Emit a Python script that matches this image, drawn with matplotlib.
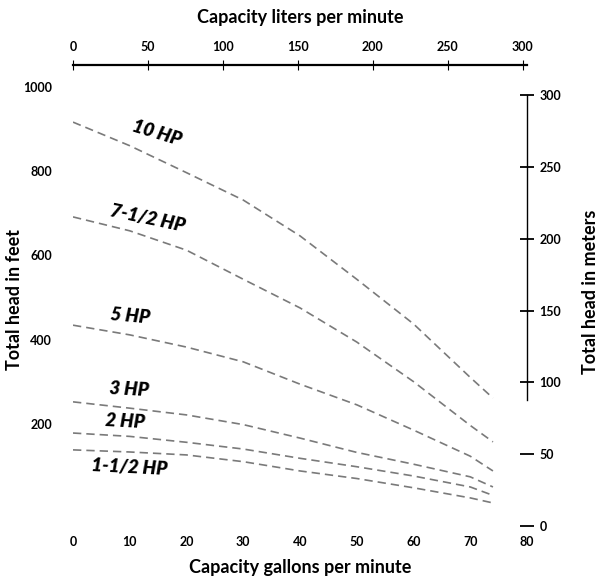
import numpy as np
import matplotlib
matplotlib.use("Agg")
import matplotlib.pyplot as plt

# pump curves (gallons per minute vs. feet of head)
gpm = [0, 10, 20, 30, 40, 50, 60, 70, 74]
hp_10 = [916, 860, 796, 731, 646, 543, 437, 310, 261]
hp_7_5 = [691, 658, 612, 543, 475, 394, 300, 196, 157]
hp_5 = [434, 411, 382, 347, 294, 245, 185, 123, 88]
hp_3 = [252, 237, 221, 198, 166, 132, 104, 74, 50]
hp_2 = [178, 170, 156, 140, 118, 98, 76, 50, 30]
hp_1_5 = [138, 133, 126, 110, 88, 70, 48, 24, 12]

curves = [hp_10, hp_7_5, hp_5, hp_3, hp_2, hp_1_5]
curve_names = ['10 HP', '7-1/2 HP', '5 HP', '3 HP', '2 HP', '1-1/2 HP']
# label anchor (gpm, ft) and rotation
label_pos = [(14.8, 890), (13.2, 688), (10.0, 456), (9.9, 282), (9.2, 206), (9.9, 97)]
label_rot = [-17, -12, -5, -3, -3, -3]

feet_ticks = [200, 400, 600, 800, 1000]
gpm_ticks = [0, 10, 20, 30, 40, 50, 60, 70, 80]
lpm_ticks = [0, 50, 100, 150, 200, 250, 300]
meter_ticks = [0, 50, 100, 150, 200, 250, 300]

FONT = 'Lato'
W, H = 601, 581

fig = plt.figure(figsize=(W / 100, H / 100), dpi=100)
left, right, top, bottom = 73, 527, 65, 530
ax = fig.add_axes([left / W, 1 - bottom / H, (right - left) / W, (bottom - top) / H])

for c in curves:
    ax.plot(gpm, c, color='#7a7a7a', lw=1.2, dashes=(5, 3))

for name, (x, y), r in zip(curve_names, label_pos, label_rot):
    ax.text(x, y, name, rotation=r, ha='center', va='center', fontsize=13.5,
            fontweight='heavy', style='italic', family=FONT, rotation_mode='anchor')

ax.set_xlim(0, 80)
ax.set_ylim(-52.2, 1051.6)
for s in ax.spines.values():
    s.set_visible(False)
ax.set_xticks(gpm_ticks)
ax.set_yticks(feet_ticks)
ax.tick_params(axis='both', length=0, labelsize=9)
ax.tick_params(axis='y', pad=15)
ax.tick_params(axis='x', pad=4)
for lab in ax.get_xticklabels() + ax.get_yticklabels():
    lab.set_fontweight('bold')
    lab.set_family(FONT)

# liters per minute on top
axt = ax.twiny()
axt.set_xlim(0, 80 * 3.78541)
for k in ['left', 'right', 'bottom']:
    axt.spines[k].set_visible(False)
axt.spines['top'].set_bounds(0, 80 * 3.78541)
axt.spines['top'].set_linewidth(1.6)
axt.set_xticks(lpm_ticks)
axt.tick_params(axis='x', direction='inout', length=7, width=0.8, labelsize=9, pad=5)
for lab in axt.get_xticklabels():
    lab.set_fontweight('bold')
    lab.set_family(FONT)

# meters on the right
axr = ax.twinx()
px_per_m = (526 - 95) / 300
axr.set_ylim(-(bottom - 526) / px_per_m, (526 - top) / px_per_m)
for k in ['left', 'top', 'bottom']:
    axr.spines[k].set_visible(False)
axr.spines['right'].set_bounds(88, 300)
axr.spines['right'].set_linewidth(1.0)
axr.set_yticks(meter_ticks)
axr.tick_params(axis='y', direction='inout', length=10, width=1.3, labelsize=9, pad=4)
for lab in axr.get_yticklabels():
    lab.set_fontweight('bold')
    lab.set_family(FONT)

fig.text(300 / W, 1 - 18 / H, 'Capacity liters per minute', ha='center', va='center',
         fontsize=13, fontweight='bold', family=FONT)
fig.text(300 / W, 1 - 568 / H, 'Capacity gallons per minute', ha='center', va='center',
         fontsize=13, fontweight='bold', family=FONT)
fig.text(15 / W, 1 - 300 / H, 'Total head in feet', ha='center', va='center',
         rotation=90, fontsize=13, fontweight='bold', family=FONT)
fig.text(590 / W, 1 - 292 / H, 'Total head in meters', ha='center', va='center',
         rotation=90, fontsize=13, fontweight='bold', family=FONT)

fig.savefig('out.png', dpi=100)
